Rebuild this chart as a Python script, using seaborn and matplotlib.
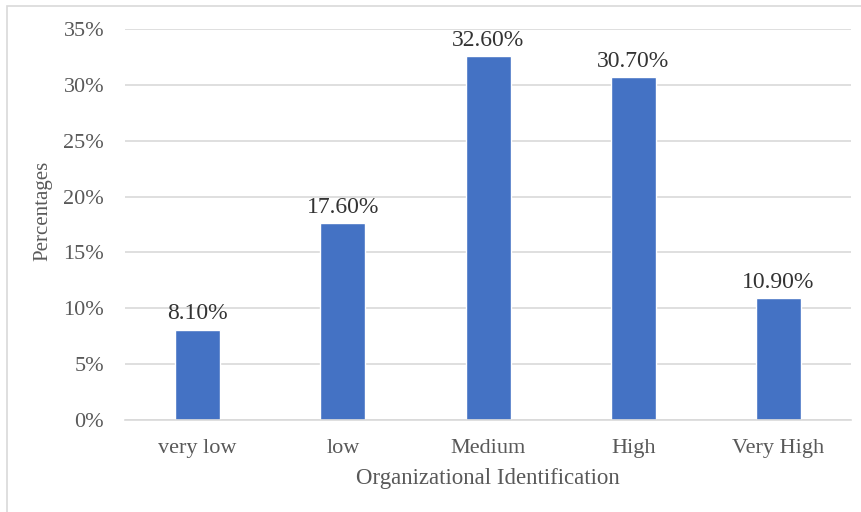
import matplotlib
matplotlib.use("Agg")
import matplotlib.pyplot as plt
import seaborn as sns
import pandas as pd
from matplotlib.ticker import PercentFormatter
from matplotlib.patches import Rectangle

categories = ["very low", "low", "Medium", "High", "Very High"]
percentages = [8.10, 17.60, 32.60, 30.70, 10.90]
y_ticks = [0, 5, 10, 15, 20, 25, 30, 35]

df = pd.DataFrame({"level": categories, "pct": percentages})

sns.set_theme(style="white")
plt.rcParams["font.family"] = ["Liberation Serif", "DejaVu Serif"]

fig = plt.figure(figsize=(8.61, 5.12), dpi=100)
ax = fig.add_axes([0.1452, 0.1797, 0.8432, 0.7637])

sns.barplot(data=df, x="level", y="pct", color="#4472C4", width=0.31,
            saturation=1, ax=ax)

ax.set_ylim(0, 35)
ax.set_yticks(y_ticks)
ax.yaxis.set_major_formatter(PercentFormatter(decimals=0))
ax.set_xlim(-0.5, len(categories) - 0.5)
ax.grid(axis="y", color="#D9D9D9", linewidth=1.2)
ax.set_axisbelow(True)
for s in ["top", "right", "left"]:
    ax.spines[s].set_visible(False)
ax.spines["bottom"].set_color("#D9D9D9")
ax.spines["bottom"].set_linewidth(1.2)
ax.tick_params(axis="both", length=0, labelsize=16, colors="#595959")
ax.tick_params(axis="x", pad=14)
ax.tick_params(axis="y", pad=15)

for i, v in enumerate(percentages):
    ax.text(i, v + 0.45, f"{v:.2f}%", ha="center", va="bottom",
            fontsize=17, color="#333333")

ax.set_xlabel("Organizational Identification", fontsize=16.5, color="#595959", labelpad=7)
ax.set_ylabel("Percentages", fontsize=15, color="#595959", labelpad=8)
ax.yaxis.label.set_y(0.535)

# light chart-area frame
fig.patches.append(Rectangle((7 / 861, -0.02), 1.0, 1 - 6 / 512 + 0.02,
                             transform=fig.transFigure, fill=False,
                             edgecolor="#D9D9D9", linewidth=1.2))

fig.savefig("out.png", dpi=100)
